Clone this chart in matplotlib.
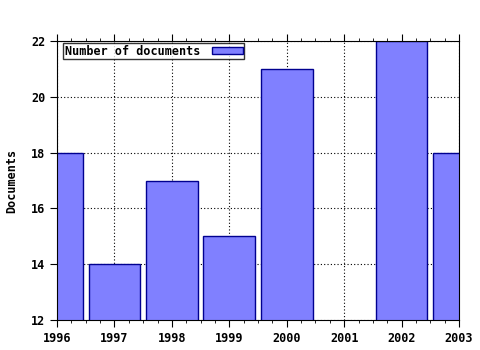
import matplotlib.pyplot as plt
import numpy as np
from matplotlib.ticker import MultipleLocator

years = [1996, 1997, 1998, 1999, 2000, 2001, 2002, 2003]
documents = [18, 14, 17, 15, 21, 0, 22, 18]

plt.rcParams['font.family'] = 'DejaVu Sans Mono'
plt.rcParams['font.weight'] = 'bold'

fig = plt.figure(figsize=(4.8, 3.5), dpi=100)
ax = fig.add_axes([57 / 480, 30 / 350, 402 / 480, 279 / 350])

ax.bar(years, documents, width=0.9, color='#8080ff', edgecolor='#000090',
       linewidth=1, label='Number of documents', zorder=2)

ax.set_xlim(1996, 2003)
ax.set_ylim(12, 22)
ax.xaxis.set_major_locator(MultipleLocator(1))
ax.xaxis.set_minor_locator(MultipleLocator(0.25))
ax.yaxis.set_major_locator(MultipleLocator(2))
ax.tick_params(axis='both', which='major', direction='out', length=5,
               labelsize=8.5, top=True, right=False)
ax.tick_params(axis='x', which='minor', direction='out', length=2.5,
               top=True)
for lab in ax.get_xticklabels() + ax.get_yticklabels():
    lab.set_fontweight('bold')

ax.grid(True, which='major', color='black', linestyle=(0, (1, 2)),
        linewidth=0.8, zorder=1)
ax.set_axisbelow(True)

ax.set_ylabel('Documents', fontsize=8.5, fontweight='bold', labelpad=9)

leg = ax.legend(loc='upper left', bbox_to_anchor=(0.015, 0.993), fontsize=8.5,
                markerfirst=False, frameon=True, fancybox=False,
                borderpad=0.15, handlelength=2.6, handleheight=0.55,
                handletextpad=1.0, borderaxespad=0)
leg.get_frame().set_edgecolor('black')
leg.get_frame().set_linewidth(1)

fig.savefig('out.png', dpi=100)
